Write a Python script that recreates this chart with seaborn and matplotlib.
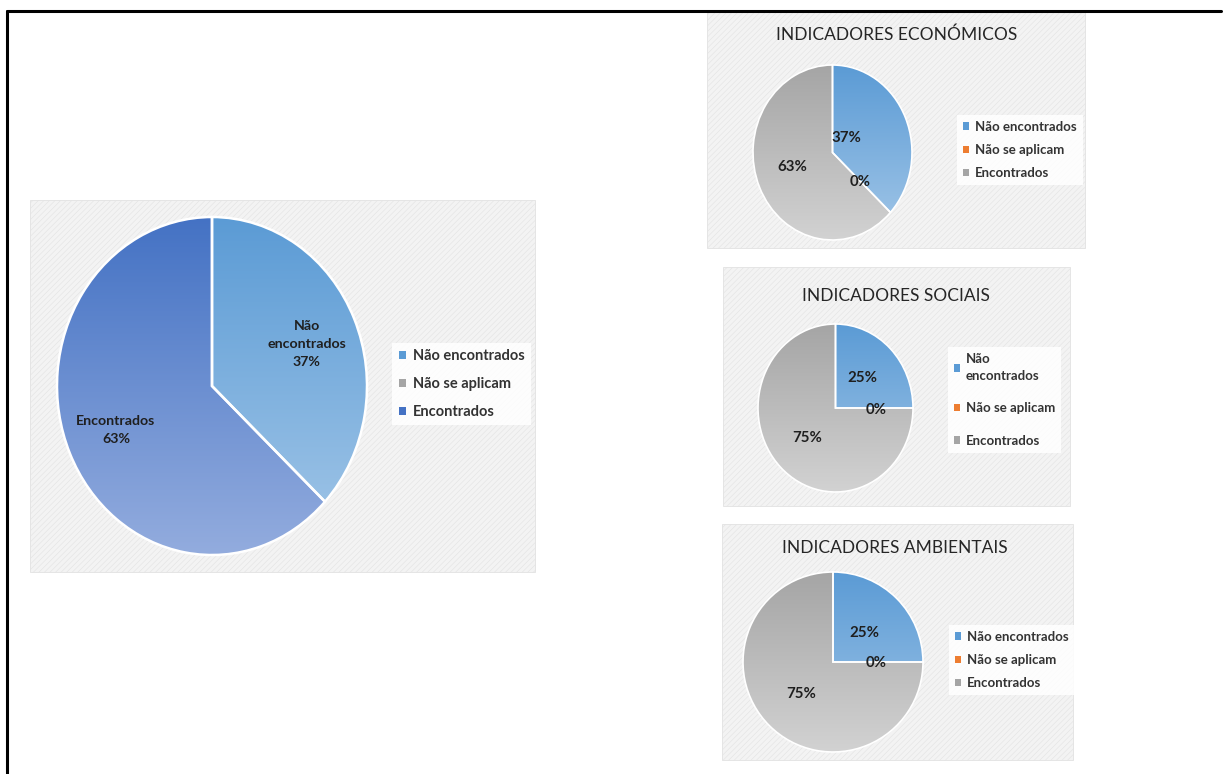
import numpy as np
import matplotlib
matplotlib.use('Agg')
import matplotlib.pyplot as plt
import seaborn as sns
from matplotlib.patches import Rectangle, Patch
from matplotlib.lines import Line2D
from matplotlib.colors import LinearSegmentedColormap

sns.set_theme(style='white')
plt.rcParams['font.family'] = ['Lato', 'DejaVu Sans']
plt.rcParams['hatch.linewidth'] = 0.4
plt.rcParams['hatch.color'] = '#e2e2e2'

# data
categorias = ['Não encontrados', 'Não se aplicam', 'Encontrados']
geral = [37, 0, 63]
economicos = [37, 0, 63]
sociais = [25, 0, 75]
ambientais = [25, 0, 75]
titulos = ['INDICADORES ECONÓMICOS', 'INDICADORES SOCIAIS', 'INDICADORES AMBIENTAIS']

W, H = 1223, 774
fig = plt.figure(figsize=(W / 100, H / 100), dpi=100)
fig.patch.set_facecolor('white')


def fx(x):
    return x / W


def fy(y):
    return 1 - y / H


def px_axes(x0, y0, x1, y1):
    ax = fig.add_axes([fx(x0), fy(y1), fx(x1 - x0), (y1 - y0) / H])
    ax.set_facecolor('none')
    return ax


def painel(x0, y0, x1, y1):
    r = Rectangle((fx(x0), fy(y1)), fx(x1 - x0), (y1 - y0) / H,
                  transform=fig.transFigure, facecolor='#f3f3f3',
                  edgecolor='#e2e2e2', hatch='//////', lw=0.6, zorder=-1)
    fig.add_artist(r)


def pizza(ax, valores, cores, textos, posicoes, fsize, lw=1.2, ls=1.25):
    wedges, _ = ax.pie(valores, startangle=90, counterclock=False,
                       colors=['none'] * len(valores),
                       wedgeprops=dict(edgecolor='white', linewidth=lw))
    grad = np.linspace(0, 1, 256).reshape(-1, 1)
    for w, v, (c0, c1) in zip(wedges, valores, cores):
        w.set_zorder(3)
        if v == 0:
            w.set_edgecolor('none')
            continue
        cmap = LinearSegmentedColormap.from_list('g', [c0, c1])
        im = ax.imshow(grad, extent=(-1, 1, -1, 1), origin='upper', cmap=cmap,
                       aspect='auto', zorder=1)
        im.set_clip_path(w)
    for t, p in zip(textos, posicoes):
        if t is None:
            continue
        ax.text(p[0], p[1], t, ha='center', va='center', fontsize=fsize,
                fontweight='bold', color='#1f1f1f', linespacing=ls, zorder=5)
    ax.set_aspect('auto')
    ax.set_xlim(-1.0, 1.0)
    ax.set_ylim(-1.0, 1.0)
    ax.axis('off')


def legenda(ax, nomes, cores, x, y, fsize, spacing):
    handles = [Patch(facecolor=c, edgecolor='none') for c in cores]
    leg = ax.legend(handles, nomes, loc='center left',
                    bbox_to_anchor=(fx(x), fy(y)), bbox_transform=fig.transFigure,
                    frameon=True, facecolor='white', edgecolor='none',
                    framealpha=0.85, fancybox=False, handlelength=0.5,
                    handleheight=0.5, handletextpad=0.45, labelspacing=spacing,
                    borderpad=0.45, prop=dict(weight='bold', size=fsize))
    for t in leg.get_texts():
        t.set_color('#333333')
        t.set_linespacing(1.45)
    return leg


azul_claro = ('#5b9bd5', '#a3c7e8')
azul_escuro = ('#4472c4', '#93acde')
cinza = ('#a5a5a5', '#d2d2d2')
laranja = ('#ed7d31', '#ed7d31')

# border of the table cell
fig.add_artist(Line2D([fx(7), fx(7)], [fy(11), 0], transform=fig.transFigure,
                      color='black', lw=2.2))
fig.add_artist(Line2D([fx(7), fx(1221)], [fy(11), fy(11)], transform=fig.transFigure,
                      color='black', lw=2.2))

# main chart
painel(30, 200, 535, 572)
ax = px_axes(57, 217, 367, 555)
pizza(ax, geral, [azul_claro, ('#a5a5a5', '#a5a5a5'), azul_escuro],
      ['Não\nencontrados\n37%', None, 'Encontrados\n63%'],
      [(0.61, 0.25), None, (-0.62, -0.26)], 10.2, lw=1.8, ls=1.6)
legenda(ax, categorias, ['#5b9bd5', '#a5a5a5', '#4472c4'], 385, 384, 10.5, 0.95)

# small charts
paineis = [(707, 12, 1085, 248), (723, 267, 1070, 506), (722, 524, 1073, 760)]
caixas = [(753, 65, 912, 240), (758, 324, 913, 492), (743, 572, 923, 752)]
centros_titulo = [(897, 35), (896, 296), (895, 548)]
posicoes = [
    [(0.18, 0.17), (0.35, -0.34), (-0.50, -0.17)],
    [(0.35, 0.36), (0.53, -0.02), (-0.36, -0.36)],
    [(0.35, 0.32), (0.48, -0.01), (-0.35, -0.36)],
]
legendas = [(950, 150, 0.85), (941, 400, 1.55), (942, 660, 0.85)]
nomes_soc = ['Não\nencontrados', 'Não se aplicam', 'Encontrados']

for i, valores in enumerate([economicos, sociais, ambientais]):
    painel(*paineis[i])
    fig.text(fx(centros_titulo[i][0]), fy(centros_titulo[i][1]), titulos[i],
             ha='center', va='center', fontsize=12.5, color='#262626')
    ax = px_axes(*caixas[i])
    textos = [f'{v}%' for v in valores]
    pizza(ax, valores, [azul_claro, laranja, cinza], textos, posicoes[i], 10.8)
    nomes = nomes_soc if i == 1 else categorias
    lx, ly, sp = legendas[i]
    legenda(ax, nomes, ['#5b9bd5', '#ed7d31', '#a5a5a5'], lx, ly, 9.5, sp)

fig.savefig('out.png', dpi=100, facecolor='white')
